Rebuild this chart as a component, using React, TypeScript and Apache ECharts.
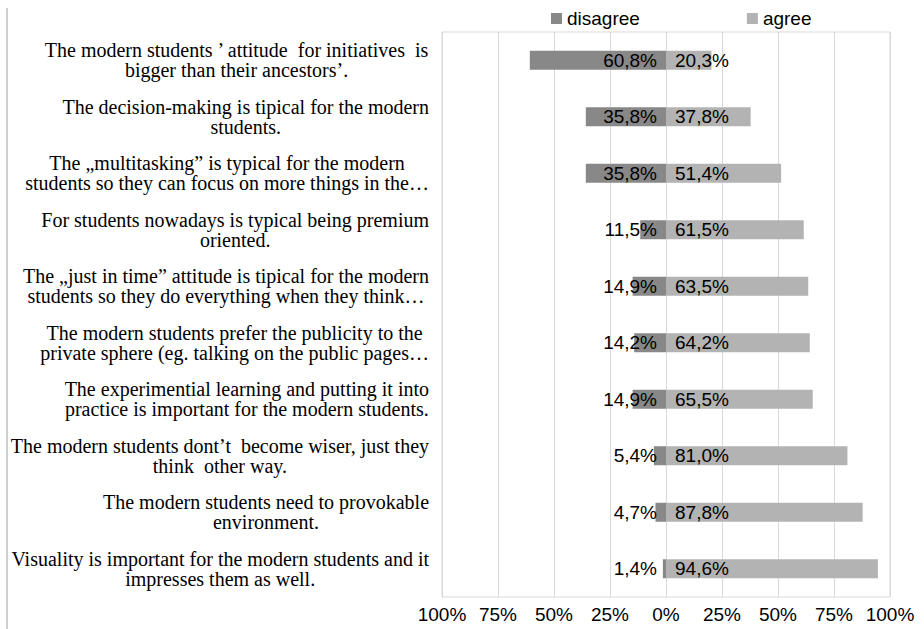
import React, { useEffect, useRef } from "react";
import * as echarts from "echarts";

const categories: string[] = [
  "The modern students ’ attitude  for initiatives  is\nbigger than their ancestors’.",
  "The decision-making is tipical for the modern\nstudents.",
  "The „multitasking” is typical for the modern\nstudents so they can focus on more things in the…",
  "For students nowadays is typical being premium\noriented.",
  "The „just in time” attitude is tipical for the modern\nstudents so they do everything when they think…",
  "The modern students prefer the publicity to the\nprivate sphere (eg. talking on the public pages…",
  "The experimential learning and putting it into\npractice is important for the modern students.",
  "The modern students dont’t  become wiser, just they\nthink  other way.",
  "The modern students need to provokable\nenvironment.",
  "Visuality is important for the modern students and it\nimpresses them as well.",
];

const disagree: number[] = [60.8, 35.8, 35.8, 11.5, 14.9, 14.2, 14.9, 5.4, 4.7, 1.4];
const agree: number[] = [20.3, 37.8, 51.4, 61.5, 63.5, 64.2, 65.5, 81.0, 87.8, 94.6];

const seriesNames = ["disagree", "agree"];
const colors = ["#888888", "#b3b3b3"];

const SANS = "'Liberation Sans', Arial, sans-serif";
const SERIF = "'Liberation Serif', 'Times New Roman', serif";

const fmt = (v: number) => Math.abs(v).toFixed(1).replace(".", ",") + "%";

export default function App() {
  const ref = useRef<HTMLDivElement>(null);
  useEffect(() => {
    if (!ref.current) return;
    const chart = echarts.init(ref.current, undefined, { renderer: "svg" });
    chart.setOption({
      animation: false,
      backgroundColor: "#ffffff",
      legend: {
        data: seriesNames,
        left: 551,
        top: 9,
        padding: 0,
        itemWidth: 11,
        itemHeight: 11,
        itemTextGap: 3,
        itemGap: 107,
        icon: "rect",
        textStyle: { fontFamily: SANS, fontSize: 19, color: "#000" },
      },
      grid: {
        left: 442,
        right: 34,
        top: 32,
        bottom: 32,
        show: true,
        borderColor: "#d9d9d9",
        borderWidth: 1,
        containLabel: false,
      },
      xAxis: {
        type: "value",
        min: -100,
        max: 100,
        interval: 25,
        axisLine: { show: false },
        axisTick: { show: false },
        splitLine: { show: true, lineStyle: { color: "#d9d9d9", width: 1 } },
        axisLabel: {
          formatter: (v: number) => Math.abs(v) + "%",
          fontFamily: SANS,
          fontSize: 19,
          color: "#000",
          margin: 8,
        },
      },
      yAxis: {
        type: "category",
        data: categories,
        inverse: true,
        axisLine: { show: false },
        axisTick: { show: false },
        splitLine: { show: false },
        axisLabel: {
          margin: 13,
          align: "right",
          fontFamily: SERIF,
          fontSize: 20,
          lineHeight: 20,
          color: "#000",
          formatter: (v: string) =>
            v
              .split("\n")
              .map((l) => `{c|${l}}`)
              .join("\n"),
          rich: {
            c: {
              align: "center",
              fontFamily: SERIF,
              fontSize: 20,
              lineHeight: 20,
              color: "#000",
            },
          },
        },
      },
      series: [
        {
          name: seriesNames[0],
          type: "bar",
          stack: "total",
          barWidth: 19,
          itemStyle: { color: colors[0] },
          data: disagree.map((v) => -v),
          label: {
            show: true,
            position: "insideRight",
            distance: 9,
            formatter: (p: any) => fmt(p.value),
            fontFamily: SANS,
            fontSize: 19,
            color: "#000",
          },
        },
        {
          name: seriesNames[1],
          type: "bar",
          stack: "total",
          barWidth: 19,
          itemStyle: { color: colors[1] },
          data: agree,
          label: {
            show: true,
            position: "insideLeft",
            distance: 9,
            formatter: (p: any) => fmt(p.value),
            fontFamily: SANS,
            fontSize: 19,
            color: "#000",
          },
        },
      ],
      graphic: [
        {
          type: "line",
          shape: { x1: 7, y1: 8, x2: 7, y2: 629 },
          style: { stroke: "#bfbfbf", lineWidth: 1.5 },
          silent: true,
        },
      ],
    });
    return () => chart.dispose();
  }, []);
  return (
    <div
      ref={ref}
      style={{ position: "absolute", left: 0, top: 0, width: 924, height: 629 }}
    />
  );
}
